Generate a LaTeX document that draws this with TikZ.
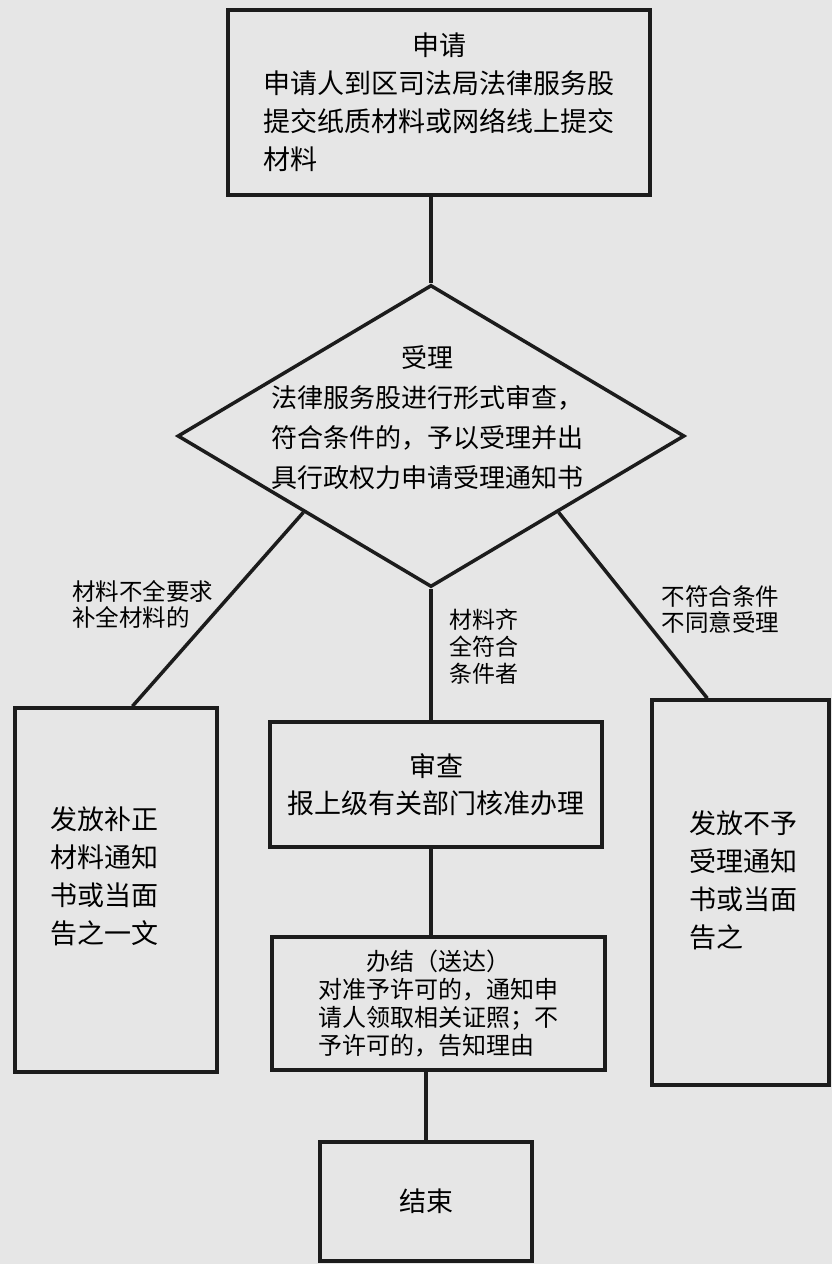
\documentclass[tikz,border=0pt]{standalone}
\usepackage{fontspec}
\newfontfamily\cjk{Noto Sans CJK SC}
\usetikzlibrary{shapes,calc}
\definecolor{paper}{HTML}{E6E6E6}
\definecolor{ink}{HTML}{1C1C1C}

\begin{document}
\begin{tikzpicture}[x=1pt,y=-1pt,
    box/.style={rectangle, draw=ink, line width=3.5pt, align=left, inner sep=0pt,
      font=\cjk\fontsize{27}{38}\selectfont},
    boxtext/.style={align=left, inner sep=0pt, font=\cjk\fontsize{27}{38}\selectfont},
    decision/.style={diamond, draw=ink, line width=3.5pt, inner sep=0pt},
    lbl/.style={inner sep=0pt, align=left, font=\cjk\fontsize{23.5}{26}\selectfont},
    link/.style={draw=ink, line width=3.5pt}]
      \useasboundingbox (0,0) rectangle (832,1264);
      \fill[paper] (0,0) rectangle (832,1264);

      % Steps
      \node[box, minimum width=422pt, minimum height=185pt, text width=351pt] (apply) at (439,102.5) {
        \makebox[351pt]{申请}\\
        申请人到区司法局法律服务股\\
        提交纸质材料或网络线上提交\\
        材料
      };

      \node[decision, minimum width=507pt, minimum height=302pt] (accept) at (431,436) {};
      \node[font=\cjk\fontsize{26}{40}\selectfont, align=center, inner sep=0pt] (accepttxt)
        at ($(accept.center)+(-4,-18)$) {
        受理\\
        法律服务股进行形式审查，\\
        符合条件的，予以受理并出\\
        具行政权力申请受理通知书
      };

      \node[box, minimum width=202pt, minimum height=364pt] (fix) at (116,890) {};
      \node[boxtext] (fixtxt) at ($(fix.center)+(-12,-14)$) {
        发放补正\\
        材料通知\\
        书或当面\\
        告之一文
      };

      \node[box, align=center, minimum width=332pt, minimum height=125pt,
        font=\cjk\fontsize{27}{37}\selectfont] (review) at (436,784.5) {
        审查\\
        报上级有关部门核准办理
      };

      \node[box, minimum width=177pt, minimum height=385pt] (refuse) at (740.5,892.5) {};
      \node[boxtext] (refusetxt) at ($(refuse.center)+(3,-12)$) {
        发放不予\\
        受理通知\\
        书或当面\\
        告之
      };

      \node[box, minimum width=333pt, minimum height=133pt, text width=240pt,
        font=\cjk\fontsize{24}{28}\selectfont] (finish) at (438.5,1003.5) {
        \makebox[240pt]{办结（送达）}\\
        对准予许可的，通知申\\
        请人领取相关证照；不\\
        予许可的，告知理由
      };

      \node[box, minimum width=212pt, minimum height=119pt] (stop) at (426,1201.5) {结束};

      % Connectors
      \draw[link] (apply.south -| accept.north) -- (accept.north);
      \draw[link] ($(accept.west)!0.5!(accept.south)$) -- ($(fix.north west)!0.58!(fix.north east)$)
        node[lbl, pos=0.476, anchor=east, xshift=-7pt] {材料不全要求\\补全材料的};
      \draw[link] (accept.south) -- (accept.south |- review.north)
        node[lbl, pos=0.437, anchor=west, xshift=17pt, font=\cjk\fontsize{23}{27}\selectfont] {材料齐\\全符合\\条件者};
      \draw[link] ($(accept.east)!0.5!(accept.south)$) -- ($(refuse.north west)!0.316!(refuse.north east)$)
        node[lbl, pos=0.522, anchor=west, xshift=24pt] {不符合条件\\不同意受理};
      \draw[link] (review.south -| accept.south) -- (finish.north -| accept.south);
      \draw[link] (finish.south -| stop.north) -- (stop.north);
    \end{tikzpicture}
\end{document}
